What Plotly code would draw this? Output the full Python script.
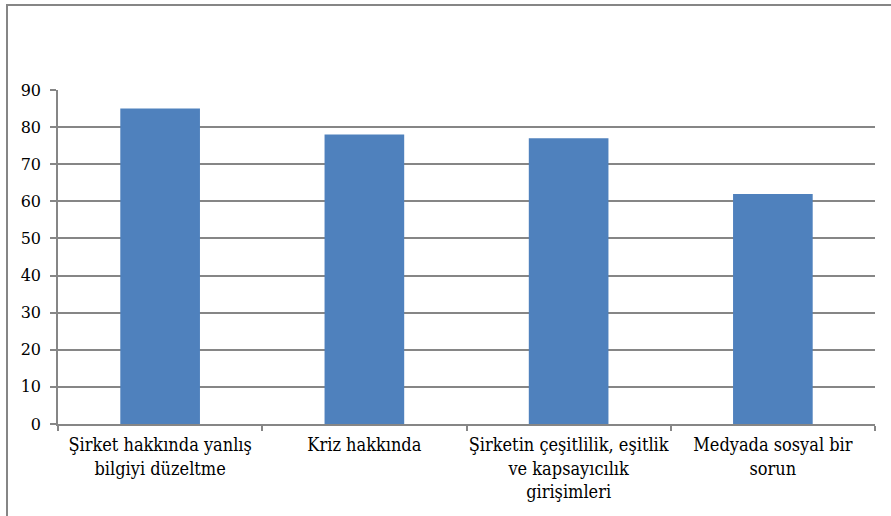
import plotly.graph_objects as go

categories = [
    "Şirket hakkında yanlış<br>bilgiyi düzeltme",
    "Kriz hakkında",
    "Şirketin çeşitlilik, eşitlik<br>ve kapsayıcılık<br>girişimleri",
    "Medyada sosyal bir<br>sorun",
]
values = [85, 78, 77, 62]
y_ticks = [0, 10, 20, 30, 40, 50, 60, 70, 80, 90]

GRAY = "#868686"
FONT = dict(family="DejaVu Serif", size=16, color="#000000")
XFONT = dict(family="DejaVu Serif Condensed, DejaVu Serif", size=18, color="#000000")

fig = go.Figure(
    go.Bar(
        x=categories,
        y=values,
        marker=dict(color="#4F81BD", line=dict(width=0)),
    )
)

fig.update_layout(
    width=891,
    height=516,
    margin=dict(l=58, r=16, t=90, b=92),
    paper_bgcolor="white",
    plot_bgcolor="white",
    font=FONT,
    bargap=0.61,
    showlegend=False,
)

fig.update_xaxes(
    showline=True,
    linecolor=GRAY,
    linewidth=1.5,
    ticks="outside",
    tickson="boundaries",
    ticklen=5,
    tickcolor=GRAY,
    tickwidth=1.5,
    showgrid=False,
    tickfont=XFONT,
    tickangle=0,
    ticklabelstandoff=4,
)

fig.update_yaxes(
    range=[0, 90],
    tickvals=y_ticks,
    showline=True,
    linecolor=GRAY,
    linewidth=1.5,
    ticks="outside",
    ticklen=6,
    tickcolor=GRAY,
    tickwidth=1.5,
    showgrid=True,
    gridcolor=GRAY,
    gridwidth=1.5,
    zeroline=False,
    tickfont=FONT,
    ticklabelstandoff=6,
)

# outer chart frame
fig.add_shape(
    type="rect",
    xref="paper",
    yref="paper",
    x0=(7 - 58) / 817,
    x1=(900 - 58) / 817,
    y0=(424 - 530) / 334,
    y1=(424 - 5) / 334,
    line=dict(color=GRAY, width=2),
    fillcolor="rgba(0,0,0,0)",
    layer="below",
)

fig.write_html("out.html")
